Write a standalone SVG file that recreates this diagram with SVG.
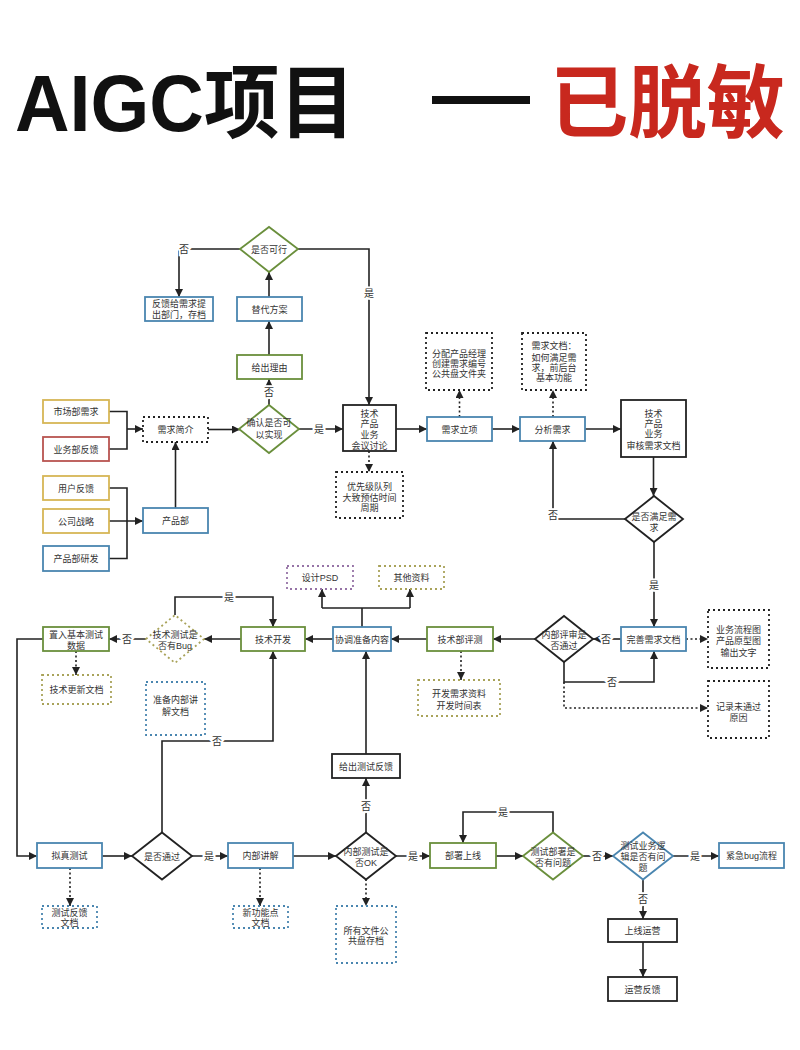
<svg xmlns="http://www.w3.org/2000/svg" width="800" height="1050" viewBox="0 0 800 1050">
<defs>
<marker id="ah" viewBox="0 0 10 10" refX="10" refY="5" markerWidth="9" markerHeight="8" markerUnits="userSpaceOnUse" orient="auto"><path d="M0,0 L10,5 L0,10 z" fill="#222"/></marker>
<style>
.n rect,.n polygon{fill:#fff;stroke-width:1.8}
.b{stroke:#4a86b0}
.g{stroke:#6a8f3c}
.y{stroke:#d6b656}
.r{stroke:#b85450}
.k{stroke:#222}
.p{stroke:#9673a6}
.o{stroke:#a9a35a}
.d{stroke-dasharray:2 3}
text{font-family:"Liberation Sans","Noto Sans CJK SC",sans-serif;font-size:9px;fill:#333;text-anchor:middle}
.c path{fill:none;stroke:#222;stroke-width:1.6}
.c path.a{marker-end:url(#ah)}
.c path.dt{stroke-dasharray:2 2.5}
.l{fill:#333;stroke:#fff;stroke-width:4;paint-order:stroke;font-size:10px}
.title{font-family:"Liberation Sans","Noto Sans CJK SC",sans-serif;font-weight:bold;font-size:80px;text-anchor:start;fill:#111}
</style>
</defs>
<rect width="800" height="1050" fill="#fff"/>
<g id="title">
<text class="title" x="15" y="131" textLength="340" lengthAdjust="spacingAndGlyphs">AIGC项目</text>
<rect x="432" y="96" width="98" height="8" fill="#111"/>
<text class="title" x="550" y="131" textLength="235" lengthAdjust="spacingAndGlyphs" style="fill:#c8281e">已脱敏</text>
</g>
<g class="c" id="connectors">
<path class="a" d="M240,249 H179 V297"/>
<path class="a" d="M298,249 H369 V405"/>
<path class="a" d="M269,297 V272"/>
<path class="a" d="M269,355 V321"/>
<path class="a" d="M269,405 V379"/>
<path class="a" d="M299,429 H343"/>
<path class="a dt" d="M369,451 V472"/>
<path d="M109,411.5 H127 V449 H109"/>
<path class="a" d="M127,429 H143"/>
<path d="M109,488 H127 V558.5 H109"/>
<path class="a" d="M109,521 H143"/>
<path class="a" d="M175.5,508 V442"/>
<path class="a" d="M208,429.5 H240"/>
<path class="a" d="M396,429 H427"/>
<path class="a dt" d="M459.5,417 V390"/>
<path class="a" d="M492,429 H520"/>
<path class="a dt" d="M553,417 V390"/>
<path class="a" d="M585,429 H621"/>
<path class="a" d="M653.5,457 V496"/>
<path class="a" d="M625,519 H553 V441"/>
<path class="a" d="M654,542 V627"/>
<path class="a dt" d="M686,639 H708"/>
<path class="a" d="M621,639 H593"/>
<path class="a" d="M564,662 V682 H654 V651"/>
<path class="a dt" d="M564,682 V708 H708"/>
<path class="a" d="M535,639 H493"/>
<path class="a dt" d="M461,651 V680"/>
<path class="a" d="M427,639 H391"/>
<path d="M362,627 V608 M322,608 H410"/>
<path class="a" d="M322,608 V589"/>
<path class="a" d="M410,608 V589"/>
<path class="a" d="M333,639 H305"/>
<path class="a" d="M241,639 H204"/>
<path class="a" d="M175,615 V597 H273 V627"/>
<path class="a" d="M146,639 H109"/>
<path class="a dt" d="M76,651 V675"/>
<path class="a" d="M43,639 H17 V856 H37"/>
<path class="a" d="M102,856 H132"/>
<path class="a" d="M162,832 V741 H273 V651"/>
<path class="a" d="M192,856 H228"/>
<path class="a dt" d="M70,868 V906"/>
<path class="a dt" d="M260,868 V906"/>
<path class="a" d="M293,856 H336"/>
<path class="a dt" d="M366,879 V906"/>
<path class="a" d="M366,832 V778"/>
<path class="a" d="M366,754 V651"/>
<path class="a" d="M396,856 H430"/>
<path class="a" d="M496,856 H523"/>
<path class="a" d="M553,832 V812 H463 V843"/>
<path class="a" d="M583,856 H613"/>
<path class="a" d="M673,856 H719"/>
<path class="a" d="M643,879 V919"/>
<path class="a" d="M643,942 V977"/>
<text class="l" x="184" y="253">否</text>
<text class="l" x="369" y="297">是</text>
<text class="l" x="269" y="396">否</text>
<text class="l" x="319" y="433">是</text>
<text class="l" x="553" y="519">否</text>
<text class="l" x="654" y="589">是</text>
<text class="l" x="606" y="643">否</text>
<text class="l" x="612" y="686">否</text>
<text class="l" x="229" y="601">是</text>
<text class="l" x="127" y="643">否</text>
<text class="l" x="217" y="745">否</text>
<text class="l" x="209" y="860">是</text>
<text class="l" x="366" y="810">否</text>
<text class="l" x="413" y="860">是</text>
<text class="l" x="503" y="816">是</text>
<text class="l" x="597" y="860">否</text>
<text class="l" x="695" y="860">是</text>
<text class="l" x="643" y="903">否</text>
</g>
<g class="n" id="n-feasible"><polygon class="g" points="240,249 269,227 298,249 269,272"/><text x="269" y="252.5">是否可行</text></g>
<g class="n" id="n-feedback-dept"><rect class="b" x="145" y="297" width="68" height="24"/><text x="179" y="306.5">反馈给需求提</text><text x="179" y="318">出部门，存档</text></g>
<g class="n" id="n-alt"><rect class="b" x="237" y="297" width="65" height="24"/><text x="269.5" y="312.5">替代方案</text></g>
<g class="n" id="n-reason"><rect class="g" x="237" y="355" width="65" height="24"/><text x="269.5" y="370.5">给出理由</text></g>
<g class="n" id="n-confirm"><polygon class="g" points="239,429 269,405 299,429 269,453"/><text x="269" y="426">确认是否可</text><text x="269" y="438">以实现</text></g>
<g class="n" id="n-meeting"><rect class="k" x="343" y="405" width="53" height="46"/><text x="369.5" y="416.5">技术</text><text x="369.5" y="427.2">产品</text><text x="369.5" y="437.9">业务</text><text x="369.5" y="448.6">会议讨论</text></g>
<g class="n" id="n-priority"><rect class="k d" x="336" y="472" width="67" height="46"/><text x="369.5" y="489.5">优先级队列</text><text x="369.5" y="500.5">大致预估时间</text><text x="369.5" y="511">周期</text></g>
<g class="n" id="n-market"><rect class="y" x="43" y="400" width="66" height="23"/><text x="76" y="415">市场部需求</text></g>
<g class="n" id="n-biz"><rect class="r" x="43" y="437" width="66" height="24"/><text x="76" y="452.5">业务部反馈</text></g>
<g class="n" id="n-user"><rect class="y" x="43" y="476" width="66" height="24"/><text x="76" y="491.5">用户反馈</text></g>
<g class="n" id="n-strategy"><rect class="y" x="43" y="509" width="66" height="24"/><text x="76" y="524.5">公司战略</text></g>
<g class="n" id="n-prd-dev"><rect class="b" x="43" y="546" width="66" height="25"/><text x="76" y="561.5">产品部研发</text></g>
<g class="n" id="n-brief"><rect class="k d" x="143" y="417" width="65" height="25"/><text x="175.5" y="432.5">需求简介</text></g>
<g class="n" id="n-prd"><rect class="b" x="143" y="508" width="65" height="25"/><text x="175.5" y="523.5">产品部</text></g>
<g class="n" id="n-setup"><rect class="b" x="427" y="417" width="65" height="24"/><text x="459.5" y="432.5">需求立项</text></g>
<g class="n" id="n-assign"><rect class="k d" x="426" y="333" width="66" height="57"/><text x="459" y="356.5">分配产品经理</text><text x="459" y="366.5">创建需求编号</text><text x="459" y="376.5">公共盘文件夹</text></g>
<g class="n" id="n-analyze"><rect class="b" x="520" y="417" width="65" height="24"/><text x="552.5" y="432.5">分析需求</text></g>
<g class="n" id="n-doc"><rect class="k d" x="522" y="333" width="64" height="57"/><text x="554" y="348.5">需求文档：</text><text x="554" y="360.5">如何满足需</text><text x="554" y="370.5">求，前后台</text><text x="554" y="380.5">基本功能</text></g>
<g class="n" id="n-review"><rect class="k" x="621" y="400" width="65" height="57"/><text x="653.5" y="416.5">技术</text><text x="653.5" y="426.5">产品</text><text x="653.5" y="437">业务</text><text x="653.5" y="448.5">审核需求文档</text></g>
<g class="n" id="n-meet"><polygon class="k" points="625,519 654,496 683,519 654,542"/><text x="654" y="519.5">是否满足需</text><text x="654" y="530.5">求</text></g>
<g class="n" id="n-improve"><rect class="b" x="621" y="627" width="65" height="24"/><text x="653.5" y="642.5">完善需求文档</text></g>
<g class="n" id="n-flow"><rect class="k d" x="708" y="610" width="61" height="58"/><text x="738.5" y="632.5">业务流程图</text><text x="738.5" y="643.5">产品原型图</text><text x="738.5" y="655.5">输出文字</text></g>
<g class="n" id="n-internal-review"><polygon class="k" points="535,639 564,616 593,639 564,662"/><text x="564" y="637.5">内部评审是</text><text x="564" y="648.5">否通过</text></g>
<g class="n" id="n-record"><rect class="k d" x="708" y="681" width="61" height="57"/><text x="738.5" y="709.5">记录未通过</text><text x="738.5" y="720.5">原因</text></g>
<g class="n" id="n-tech-eval"><rect class="g" x="427" y="627" width="66" height="24"/><text x="460" y="642.5">技术部评测</text></g>
<g class="n" id="n-dev-data"><rect class="o d" x="418" y="680" width="82" height="36"/><text x="459" y="696.5">开发需求资料</text><text x="459" y="708.5">开发时间表</text></g>
<g class="n" id="n-coord"><rect class="b" x="333" y="627" width="58" height="24"/><text x="362" y="642.5">协调准备内容</text></g>
<g class="n" id="n-psd"><rect class="p d" x="287" y="566" width="66" height="23"/><text x="320" y="580.5">设计PSD</text></g>
<g class="n" id="n-other"><rect class="o d" x="379" y="566" width="65" height="23"/><text x="411.5" y="580.5">其他资料</text></g>
<g class="n" id="n-dev"><rect class="g" x="241" y="627" width="64" height="24"/><text x="273" y="642.5">技术开发</text></g>
<g class="n" id="n-bug"><polygon class="o d" points="146,639 175,615 204,639 175,663"/><text x="175" y="637.5">技术测试是</text><text x="175" y="648.5">否有Bug</text></g>
<g class="n" id="n-testdata"><rect class="g" x="43" y="627" width="66" height="24"/><text x="76" y="637.5">置入基本测试</text><text x="76" y="648.5">数据</text></g>
<g class="n" id="n-techdoc"><rect class="o d" x="42" y="675" width="69" height="29"/><text x="76.5" y="693">技术更新文档</text></g>
<g class="n" id="n-explain-doc"><rect class="b d" x="146" y="682" width="59" height="53"/><text x="175.5" y="702.5">准备内部讲</text><text x="175.5" y="714.5">解文档</text></g>
<g class="n" id="n-sim"><rect class="b" x="37" y="843" width="65" height="25"/><text x="69.5" y="859">拟真测试</text></g>
<g class="n" id="n-pass"><polygon class="k" points="132,856 162,832.5 192,856 162,879.5"/><text x="162" y="859.5">是否通过</text></g>
<g class="n" id="n-explain"><rect class="b" x="228" y="843" width="65" height="25"/><text x="260.5" y="859">内部讲解</text></g>
<g class="n" id="n-test-fb-doc"><rect class="b d" x="42" y="906" width="55" height="22"/><text x="69.5" y="915.5">测试反馈</text><text x="69.5" y="926">文档</text></g>
<g class="n" id="n-newfeat"><rect class="b d" x="233" y="906" width="55" height="22"/><text x="260.5" y="915.5">新功能点</text><text x="260.5" y="926">文档</text></g>
<g class="n" id="n-ok"><polygon class="k" points="336,856 366,832.5 396,856 366,879.5"/><text x="366" y="854.5">内部测试是</text><text x="366" y="865.5">否OK</text></g>
<g class="n" id="n-archive"><rect class="b d" x="336" y="906" width="60" height="57"/><text x="366" y="933.5">所有文件公</text><text x="366" y="944">共盘存档</text></g>
<g class="n" id="n-give-fb"><rect class="k" x="332" y="754" width="68" height="24"/><text x="366" y="769.5">给出测试反馈</text></g>
<g class="n" id="n-deploy"><rect class="g" x="430" y="843" width="66" height="25"/><text x="463" y="859">部署上线</text></g>
<g class="n" id="n-deploy-q"><polygon class="g" points="523,856 553,832.5 583,856 553,879.5"/><text x="553" y="854.5">测试部署是</text><text x="553" y="865.5">否有问题</text></g>
<g class="n" id="n-logic-q"><polygon class="b" points="613,856 643,832.5 673,856 643,879.5"/><text x="643" y="848.5">测试业务逻</text><text x="643" y="859.5">辑是否有问</text><text x="643" y="870.5">题</text></g>
<g class="n" id="n-urgent"><rect class="b" x="719" y="843" width="65" height="25"/><text x="751.5" y="859">紧急bug流程</text></g>
<g class="n" id="n-ops"><rect class="k" x="608" y="919" width="69" height="23"/><text x="642.5" y="934">上线运营</text></g>
<g class="n" id="n-ops-fb"><rect class="k" x="608" y="977" width="69" height="24"/><text x="642.5" y="992.5">运营反馈</text></g>
</svg>
